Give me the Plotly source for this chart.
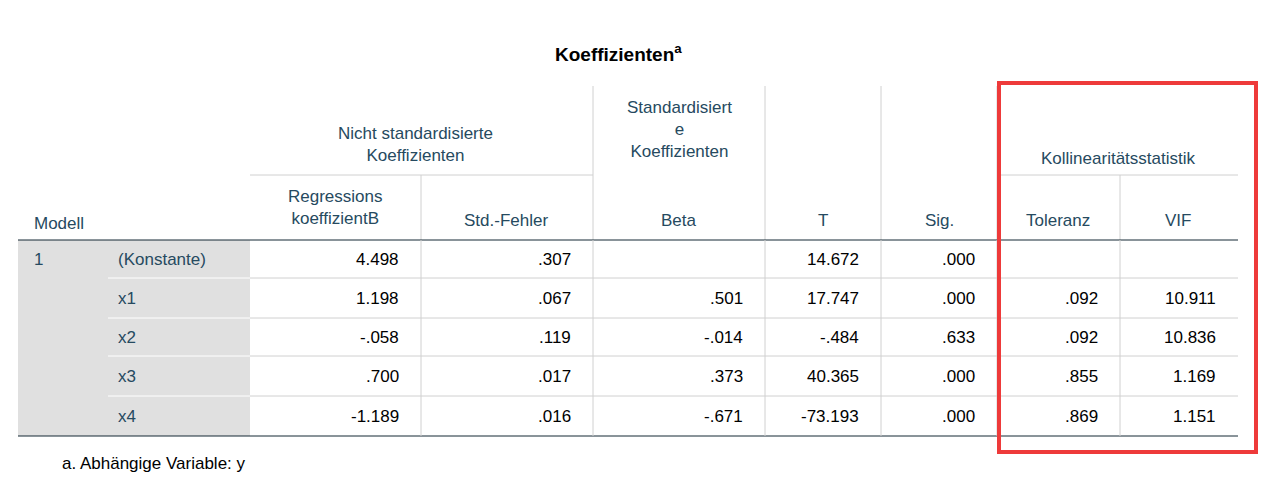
import plotly.graph_objects as go

# table content
labels = ["(Konstante)", "x1", "x2", "x3", "x4"]
coef_b = ["4.498", "1.198", "-.058", ".700", "-1.189"]
std_err = [".307", ".067", ".119", ".017", ".016"]
beta = ["", ".501", "-.014", ".373", "-.671"]
t_val = ["14.672", "17.747", "-.484", "40.365", "-73.193"]
sig = [".000", ".000", ".633", ".000", ".000"]
toleranz = ["", ".092", ".092", ".855", ".869"]
vif = ["", "10.911", "10.836", "1.169", "1.151"]

W, H = 1271, 483
col_edges = [10, 100, 242, 413, 585, 757, 873, 989, 1112, 1230]
row_edges = [232, 270, 310, 348, 388, 428]
HEAD = "#264a60"
GRID = "#d0d0d0"
FONT = "Liberation Sans, Arial, sans-serif"

fig = go.Figure()
shapes = []
ann = []


def line(x0, y0, x1, y1, color=GRID, width=1):
    shapes.append(dict(type="line", x0=x0, y0=y0, x1=x1, y1=y1,
                       line=dict(color=color, width=width), layer="above"))


def text(x, y, s, anchor="center", color=HEAD, size=17, bold=False):
    if bold:
        s = "<b>" + s + "</b>"
    ann.append(dict(x=x, y=y, text=s, showarrow=False, xanchor=anchor,
                    yanchor="middle", font=dict(family=FONT, size=size, color=color)))


# gray label block
shapes.append(dict(type="rect", x0=col_edges[0], x1=col_edges[2], y0=row_edges[0],
                   y1=row_edges[-1], fillcolor="#e0e0e0", line=dict(width=0), layer="below"))

# header grid
for x in [585, 757, 873, 989]:
    line(x, 78, x, 232)
for x in [413, 1112]:
    line(x, 167, x, 232)
line(242, 167, 585, 167)
line(989, 167, 1230, 167)
line(col_edges[0], 232, col_edges[-1], 232, color="#152935", width=1)
for y in row_edges[1:-1]:
    line(col_edges[2], y, col_edges[-1], y)
    line(col_edges[1], y, col_edges[2], y, color="#ffffff")
line(col_edges[0], 428, col_edges[-1], 428, color="#152935", width=1)
for x in col_edges[3:-1]:
    line(x, 232, x, 428)

# title
text(610, 45, "Koeffizienten<sup>a</sup>", color="#000000", size=19, bold=True)

# header text
text(407, 136, "Nicht standardisierte<br>Koeffizienten")
text(671, 121, "Standardisiert<br>e<br>Koeffizienten")
text(1110, 150, "Kollinearitätsstatistik")
text(327, 199, "Regressions<br>koeffizientB")
for cx, s in [(498, "Std.-Fehler"), (671, "Beta"), (815, "T"), (931, "Sig."),
              (1050, "Toleranz"), (1170, "VIF")]:
    text(cx, 212, s)
text(24, 215, "Modell", anchor="left")

# body
cols = [coef_b, std_err, beta, t_val, sig, toleranz, vif]
for i, lab in enumerate(labels):
    yc = (row_edges[i] + row_edges[i + 1]) / 2
    text(108, yc, lab, anchor="left")
    for j, vals in enumerate(cols):
        text(col_edges[j + 3] - 20, yc, vals[i], anchor="right", color="#000000")
text(24, (row_edges[0] + row_edges[1]) / 2, "1", anchor="left")

text(52, 455, "a. Abhängige Variable: y", anchor="left", color="#000000")

# highlight
shapes.append(dict(type="rect", x0=991, x1=1248, y0=75, y1=444,
                   line=dict(color="#ee3a3a", width=4), layer="above"))

fig.update_layout(
    width=W, height=H, margin=dict(l=0, r=0, t=0, b=0),
    plot_bgcolor="white", paper_bgcolor="white",
    xaxis=dict(range=[0, W], visible=False, fixedrange=True),
    yaxis=dict(range=[H, 0], visible=False, fixedrange=True),
    shapes=shapes, annotations=ann, showlegend=False,
)
fig.write_html("out.html")
